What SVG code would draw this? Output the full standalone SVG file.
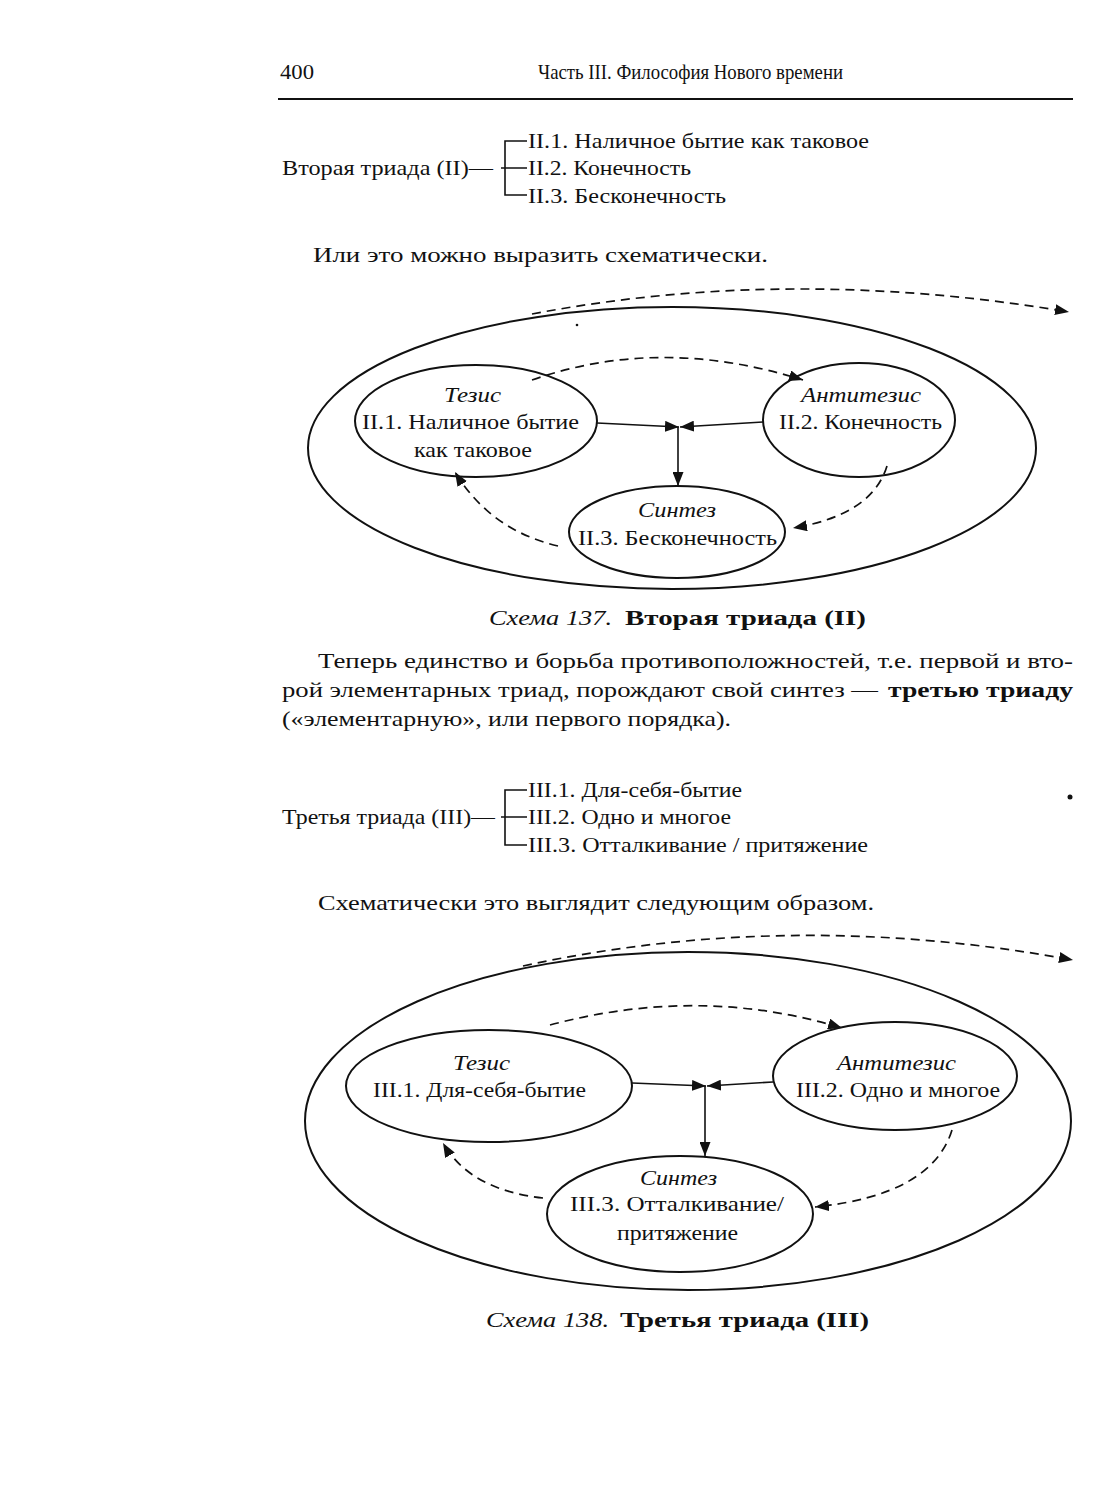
<svg xmlns="http://www.w3.org/2000/svg" width="1104" height="1500" viewBox="0 0 1104 1500">
<style>
text{font-family:"Liberation Serif","DejaVu Serif",serif;fill:#111;}
.t{font-size:22px;}
.b{font-size:22px;}
.n{font-size:21px;}
.i{font-style:italic;}
.bd{font-weight:bold;}
.ln{fill:none;stroke:#111;stroke-width:2;}
.sl{fill:none;stroke:#111;stroke-width:1.6;}
.ds{fill:none;stroke:#111;stroke-width:1.7;stroke-dasharray:9 6;}
</style>
<defs>
<marker id="ah" markerUnits="userSpaceOnUse" markerWidth="15" markerHeight="11" refX="14" refY="5.5" orient="auto">
<path d="M0,0 L14,5.5 L0,11 z" fill="#111"/>
</marker>
</defs>
<rect width="1104" height="1500" fill="#fff"/>

<g id="header">
<text class="t" x="280" y="79" textLength="34" lengthAdjust="spacingAndGlyphs">400</text>
<text class="t" x="538" y="79" textLength="305" lengthAdjust="spacingAndGlyphs">Часть III. Философия Нового времени</text>
<line x1="278" y1="99" x2="1073" y2="99" stroke="#111" stroke-width="2"/>
</g>

<g id="list2">
<text class="t" x="282" y="175" textLength="211" lengthAdjust="spacingAndGlyphs">Вторая триада (II)—</text>
<path class="sl" d="M527,141 H505 V195 H527 M501,168 H527"/>
<text class="t" x="528" y="148" textLength="341" lengthAdjust="spacingAndGlyphs">II.1. Наличное бытие как таковое</text>
<text class="t" x="528" y="175" textLength="163" lengthAdjust="spacingAndGlyphs">II.2. Конечность</text>
<text class="t" x="528" y="203" textLength="198" lengthAdjust="spacingAndGlyphs">II.3. Бесконечность</text>
</g>

<text class="b" x="313" y="262" textLength="455" lengthAdjust="spacingAndGlyphs">Или это можно выразить схематически.</text>

<g id="scheme137">
<g id="outer137"><ellipse class="ln" cx="672" cy="448" rx="364" ry="141"/></g>
<circle cx="577" cy="325" r="1.3" fill="#111"/>
<g id="tezis137">
<ellipse class="ln" cx="476" cy="421" rx="121" ry="56"/>
<text class="n i" x="444" y="402" textLength="57" lengthAdjust="spacingAndGlyphs">Тезис</text>
<text class="n" x="362" y="429" textLength="217" lengthAdjust="spacingAndGlyphs">II.1. Наличное бытие</text>
<text class="n" x="414" y="457" textLength="118" lengthAdjust="spacingAndGlyphs">как таковое</text>
</g>
<g id="antitezis137">
<ellipse class="ln" cx="859" cy="420" rx="96" ry="57"/>
<text class="n i" x="801" y="402" textLength="120" lengthAdjust="spacingAndGlyphs">Антитезис</text>
<text class="n" x="779" y="429" textLength="163" lengthAdjust="spacingAndGlyphs">II.2. Конечность</text>
</g>
<g id="sintez137">
<ellipse class="ln" cx="677" cy="532" rx="108" ry="46"/>
<text class="n i" x="638" y="517" textLength="78" lengthAdjust="spacingAndGlyphs">Синтез</text>
<text class="n" x="578" y="545" textLength="199" lengthAdjust="spacingAndGlyphs">II.3. Бесконечность</text>
</g>
<g id="connectors137">
<path class="ds" d="M532,314 Q790,265 1069,312" marker-end="url(#ah)"/>
<path class="ds" d="M532,380 Q660,335 803,380" marker-end="url(#ah)"/>
<path class="ds" d="M887,466 Q872,515 793,528" marker-end="url(#ah)"/>
<path class="ds" d="M558,546 Q490,530 455,472" marker-end="url(#ah)"/>
<path class="sl" d="M597,423 L679,427" marker-end="url(#ah)"/>
<path class="sl" d="M763,422 L680,427" marker-end="url(#ah)"/>
<path class="sl" d="M678,427 L678,486" marker-end="url(#ah)"/>
</g>
</g>

<g id="caption137">
<text class="b i" x="489" y="625" textLength="123" lengthAdjust="spacingAndGlyphs">Схема 137.</text>
<text class="b bd" x="625" y="625" textLength="241" lengthAdjust="spacingAndGlyphs">Вторая триада (II)</text>
</g>

<g id="paragraph">
<text class="b" x="318" y="668" textLength="755" lengthAdjust="spacingAndGlyphs">Теперь единство и борьба противоположностей, т.е. первой и вто-</text>
<text class="b" x="282" y="697" textLength="596" lengthAdjust="spacingAndGlyphs">рой элементарных триад, порождают свой синтез —</text>
<text class="b bd" x="888" y="697" textLength="185" lengthAdjust="spacingAndGlyphs">третью триаду</text>
<text class="b" x="282" y="726" textLength="449" lengthAdjust="spacingAndGlyphs">(«элементарную», или первого порядка).</text>
</g>

<g id="list3">
<text class="t" x="282" y="824" textLength="213" lengthAdjust="spacingAndGlyphs">Третья триада (III)—</text>
<path class="sl" d="M527,790 H505 V845 H527 M501,817 H527"/>
<text class="t" x="528" y="797" textLength="214" lengthAdjust="spacingAndGlyphs">III.1. Для-себя-бытие</text>
<text class="t" x="528" y="824" textLength="203" lengthAdjust="spacingAndGlyphs">III.2. Одно и многое</text>
<text class="t" x="528" y="852" textLength="340" lengthAdjust="spacingAndGlyphs">III.3. Отталкивание / притяжение</text>
</g>
<circle cx="1070" cy="797" r="2.5" fill="#111"/>

<text class="b" x="318" y="910" textLength="556" lengthAdjust="spacingAndGlyphs">Схематически это выглядит следующим образом.</text>

<g id="scheme138">
<g id="outer138"><ellipse class="ln" cx="688" cy="1121" rx="383" ry="169"/></g>
<g id="tezis138">
<ellipse class="ln" cx="489" cy="1086" rx="143" ry="56"/>
<text class="n i" x="453" y="1070" textLength="57" lengthAdjust="spacingAndGlyphs">Тезис</text>
<text class="n" x="373" y="1097" textLength="213" lengthAdjust="spacingAndGlyphs">III.1. Для-себя-бытие</text>
</g>
<g id="antitezis138">
<ellipse class="ln" cx="895" cy="1076" rx="122" ry="54"/>
<text class="n i" x="837" y="1070" textLength="119" lengthAdjust="spacingAndGlyphs">Антитезис</text>
<text class="n" x="796" y="1097" textLength="204" lengthAdjust="spacingAndGlyphs">III.2. Одно и многое</text>
</g>
<g id="sintez138">
<ellipse class="ln" cx="680" cy="1214" rx="133" ry="58"/>
<text class="n i" x="640" y="1185" textLength="77" lengthAdjust="spacingAndGlyphs">Синтез</text>
<text class="n" x="570" y="1211" textLength="214" lengthAdjust="spacingAndGlyphs">III.3. Отталкивание/</text>
<text class="n" x="617" y="1240" textLength="121" lengthAdjust="spacingAndGlyphs">притяжение</text>
</g>
<g id="connectors138">
<path class="ds" d="M523,966 Q790,908 1073,960" marker-end="url(#ah)"/>
<path class="ds" d="M550,1025 Q700,985 842,1028" marker-end="url(#ah)"/>
<path class="ds" d="M952,1130 Q932,1195 815,1207" marker-end="url(#ah)"/>
<path class="ds" d="M543,1198 Q470,1190 443,1143" marker-end="url(#ah)"/>
<path class="sl" d="M632,1083 L706,1086" marker-end="url(#ah)"/>
<path class="sl" d="M773,1082 L707,1086" marker-end="url(#ah)"/>
<path class="sl" d="M705,1086 L705,1156" marker-end="url(#ah)"/>
</g>
</g>

<g id="caption138">
<text class="b i" x="486" y="1327" textLength="123" lengthAdjust="spacingAndGlyphs">Схема 138.</text>
<text class="b bd" x="620" y="1327" textLength="249" lengthAdjust="spacingAndGlyphs">Третья триада (III)</text>
</g>
</svg>
